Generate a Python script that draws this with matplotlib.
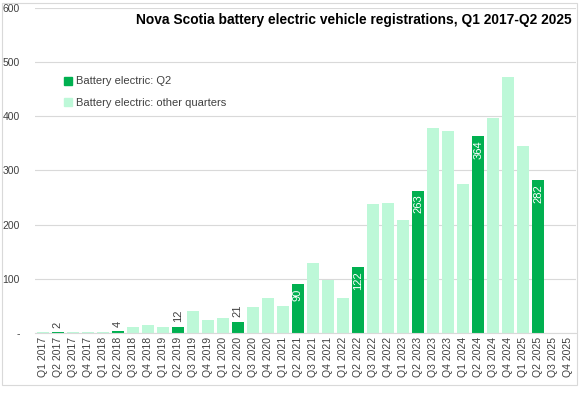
import matplotlib
matplotlib.use("Agg")
import matplotlib.pyplot as plt
from matplotlib.patches import Patch, Rectangle
import numpy as np

quarters = [f"Q{q} {y}" for y in range(2017, 2026) for q in range(1, 5)]
values = [1, 2, 1, 1,
          1, 4, 11, 15,
          11, 12, 41, 24,
          28, 21, 48, 65,
          50, 90, 130, 98,
          65, 122, 238, 240,
          209, 263, 379, 372,
          275, 364, 397, 472,
          346, 282, np.nan, np.nan]
yticks = [0, 100, 200, 300, 400, 500, 600]
ytick_labels = ["-", "100", "200", "300", "400", "500", "600"]

DARK = "#00B050"
LIGHT = "#BDF8D8"
TXT = "#404040"

plt.rcParams["font.family"] = ["Liberation Sans", "DejaVu Sans"]

W, H = 584, 398
fig = plt.figure(figsize=(W / 100, H / 100), dpi=100)
ax = fig.add_axes([35 / W, 1 - 333 / H, (576 - 35) / W, (333 - 8) / H])

x = np.arange(len(quarters))
vals = np.array(values, dtype=float)
is_q2 = np.array([q.startswith("Q2") for q in quarters])
colors = [DARK if q2 else LIGHT for q2 in is_q2]
ax.bar(x, np.nan_to_num(vals), width=0.8, color=colors, zorder=2)

# labels only on Q2 bars
for xi, v, q2 in zip(x, vals, is_q2):
    if not q2 or np.isnan(v):
        continue
    if v > 60:
        ax.annotate(f"{v:.0f}", (xi, v), xytext=(0, -3), textcoords="offset points",
                    rotation=90, ha="center", va="top", color="white", fontsize=8)
    else:
        ax.annotate(f"{v:.0f}", (xi, v), xytext=(0, 3), textcoords="offset points",
                    rotation=90, ha="center", va="bottom", color=TXT, fontsize=8)

ax.set_xlim(-0.5, len(quarters) - 0.5)
ax.set_ylim(0, 600)
ax.set_yticks(yticks)
ax.set_yticklabels(ytick_labels)
ax.set_xticks(x)
ax.set_xticklabels(quarters, rotation=90)
ax.tick_params(axis="both", length=0, labelsize=7.5, colors=TXT)
ax.tick_params(axis="y", pad=11)
ax.tick_params(axis="x", pad=3)
ax.grid(axis="y", color="#D9D9D9", lw=0.8, zorder=0)
for s in ["top", "right", "left"]:
    ax.spines[s].set_visible(False)
ax.spines["bottom"].set_color("#D9D9D9")

handles = [Patch(color=DARK, label="Battery electric: Q2"),
           Patch(color=LIGHT, label="Battery electric: other quarters")]
ax.legend(handles=handles, loc="upper left", bbox_to_anchor=(0.035, 0.82), frameon=False,
          fontsize=8, handlelength=0.7, handleheight=0.7, handletextpad=0.4,
          labelspacing=1.0, labelcolor=TXT)

fig.text(572 / W, 1 - 20 / H, "Nova Scotia battery electric vehicle registrations, Q1 2017-Q2 2025",
         ha="right", va="center", fontsize=9.9, fontweight="bold", color="black")

fig.patches.append(Rectangle((2 / W, 1 - 385 / H), 575 / W, 382 / H, transform=fig.transFigure,
                             fill=False, edgecolor="#D9D9D9", lw=0.8))

fig.savefig("out.png", dpi=100)
